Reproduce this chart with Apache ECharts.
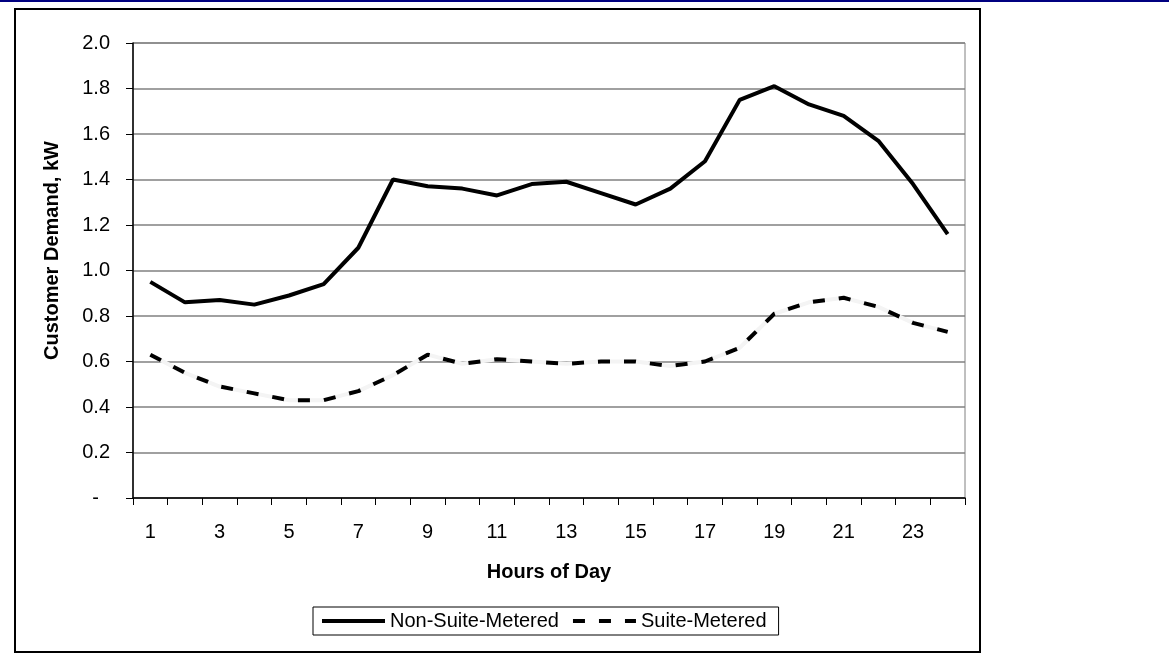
<!DOCTYPE html>
<html>
<head>
<meta charset="utf-8">
<script src="https://cdn.jsdelivr.net/npm/echarts@6/dist/echarts.min.js"></script>
<style>
  html, body { margin: 0; padding: 0; background: #fff; }
  #chart { width: 1169px; height: 659px; }
</style>
</head>
<body>
<div id="chart"></div>
<script>
// hours 1..24
var hours = ['1', '2', '3', '4', '5', '6', '7', '8', '9', '10', '11', '12',
  '13', '14', '15', '16', '17', '18', '19', '20', '21', '22', '23', '24'];
// kW per customer
var nonSuite = [0.95, 0.86, 0.87, 0.85, 0.89, 0.94, 1.10, 1.40, 1.37, 1.36, 1.33, 1.38,
  1.39, 1.34, 1.29, 1.36, 1.48, 1.75, 1.81, 1.73, 1.68, 1.57, 1.38, 1.16];
var suite = [0.63, 0.55, 0.49, 0.46, 0.43, 0.43, 0.47, 0.54, 0.63, 0.59, 0.61, 0.60,
  0.59, 0.60, 0.60, 0.58, 0.60, 0.66, 0.81, 0.86, 0.88, 0.84, 0.77, 0.73];

var font = 'Liberation Sans, Arial, sans-serif';
var chart = echarts.init(document.getElementById('chart'), null, { renderer: 'canvas' });

var option = {
  animation: false,
  backgroundColor: '#fff',
  textStyle: { fontFamily: font, color: '#000' },
  graphic: [
    // blue rule along the top edge
    { type: 'rect', shape: { x: 0, y: 0, width: 1169, height: 2 }, style: { fill: '#000080' }, silent: true },
    // chart frame
    { type: 'rect', shape: { x: 15, y: 9, width: 965, height: 643 },
      style: { fill: null, stroke: '#000', lineWidth: 2 }, silent: true }
  ],
  grid: {
    left: 133, top: 43, right: 204, bottom: 161,
    show: true, borderColor: '#808080', borderWidth: 1, backgroundColor: 'transparent'
  },
  legend: {
    left: 313, top: 607,
    data: ['Non-Suite-Metered', 'Suite-Metered'],
    itemWidth: 63, itemHeight: 14, itemGap: 12,
    padding: [4, 12, 4, 7],
    borderColor: '#000', borderWidth: 1, backgroundColor: '#fff',
    itemStyle: { opacity: 0 },
    lineStyle: { width: 4 },
    textStyle: { fontSize: 20, fontFamily: font, color: '#000' }
  },
  xAxis: {
    type: 'category',
    data: hours,
    boundaryGap: true,
    name: 'Hours of Day',
    nameLocation: 'middle',
    nameGap: 64,
    nameTextStyle: { fontSize: 20, fontWeight: 'bold', fontFamily: font, color: '#000' },
    axisLine: { lineStyle: { color: '#000', width: 1.5 } },
    axisTick: { show: true, interval: 0, length: 7, lineStyle: { color: '#000' } },
    axisLabel: { interval: 1, margin: 24, fontSize: 20, fontFamily: font, color: '#000' },
    splitLine: { show: false }
  },
  yAxis: {
    type: 'value',
    min: 0, max: 2, interval: 0.2,
    name: 'Customer Demand, kW',
    nameLocation: 'middle',
    nameGap: 71,
    nameTextStyle: { fontSize: 20, fontWeight: 'bold', fontFamily: font, color: '#000', padding: [0, 0, 0, 40] },
    axisLine: { show: true, lineStyle: { color: '#000', width: 1.5 } },
    axisTick: { show: true, inside: false, length: 7, lineStyle: { color: '#000' } },
    axisLabel: {
      margin: 23, fontSize: 20, fontFamily: font, color: '#000',
      formatter: function (v) { return v === 0 ? '-  ' : v.toFixed(1); }
    },
    splitLine: { show: true, lineStyle: { color: '#808080', width: 1.5 } }
  },
  series: [
    {
      name: 'suite-under',
      type: 'line',
      data: suite,
      symbol: 'none',
      silent: true,
      lineStyle: { color: '#f4f4f4', width: 4 },
      z: 2
    },
    {
      name: 'Suite-Metered',
      type: 'line',
      data: suite,
      symbol: 'none',
      itemStyle: { color: '#000' },
      lineStyle: { color: '#000', width: 4, type: [12, 14] },
      z: 3
    },
    {
      name: 'Non-Suite-Metered',
      type: 'line',
      data: nonSuite,
      symbol: 'none',
      itemStyle: { color: '#000' },
      lineStyle: { color: '#000', width: 4 },
      z: 4
    }
  ]
};
chart.setOption(option);
</script>
</body>
</html>
